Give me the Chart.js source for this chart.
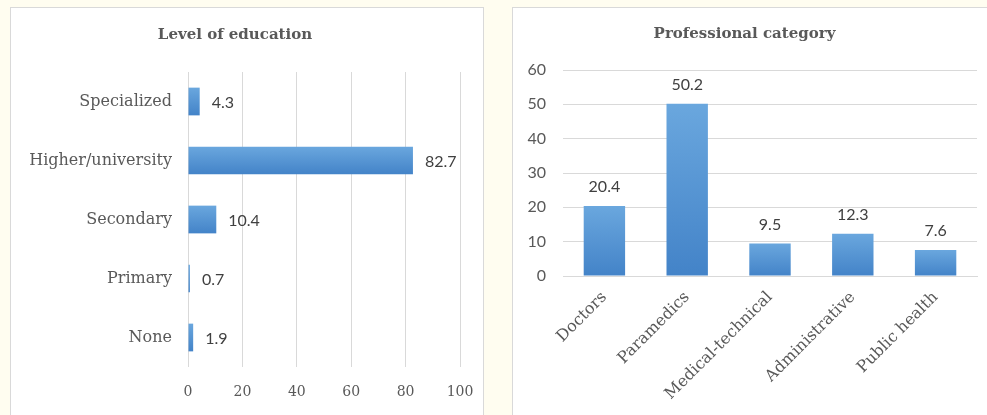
<!DOCTYPE html>
<html>
<head>
<meta charset="utf-8">
<script src="https://cdn.jsdelivr.net/npm/chart.js@4/dist/chart.umd.min.js"></script>
<style>
  html, body { margin: 0; padding: 0; background: #fffdf0; width: 987px; height: 415px; overflow: hidden; }
  .panel { position: absolute; background: #fff; border: 1px solid #d9d9d9; box-sizing: border-box; }
  canvas { position: absolute; }
</style>
</head>
<body>
<div class="panel" style="left:10px;top:7px;width:474px;height:412px"></div>
<div class="panel" style="left:512px;top:7px;width:480px;height:412px"></div>
<canvas id="edu" width="473" height="408" style="left:10px;top:7px"></canvas>
<canvas id="prof" width="475" height="408" style="left:512px;top:7px"></canvas>
<script>
const eduLabels = ['Specialized', 'Higher/university', 'Secondary', 'Primary', 'None'];
const eduValues = [4.3, 82.7, 10.4, 0.7, 1.9];
const eduTicks = [0, 20, 40, 60, 80, 100];

const profLabels = ['Doctors', 'Paramedics', 'Medical-technical', 'Administrative', 'Public health'];
const profValues = [20.4, 50.2, 9.5, 12.3, 7.6];

const textColor = '#595959';
const gridColor = '#d9d9d9';
const serif = "'DejaVu Serif', 'Liberation Serif', serif";
const sans = "Lato, 'Open Sans', sans-serif";

// light-to-dark fill for each bar, computed from the scales
function barFill(horizontal) {
    return ctx => {
        const chart = ctx.chart;
        if (!chart.chartArea || ctx.dataIndex === undefined) return '#5b9bd5';
        const c = chart.ctx;
        let g;
        if (horizontal) {
            const y = chart.scales.y.getPixelForValue(ctx.dataIndex);
            g = c.createLinearGradient(0, y - 14, 0, y + 14);
        } else {
            const top = chart.scales.y.getPixelForValue(ctx.raw);
            const bottom = chart.scales.y.getPixelForValue(0);
            g = c.createLinearGradient(0, top, 0, bottom);
        }
        g.addColorStop(0, '#6aa7de');
        g.addColorStop(1, '#4383c8');
        return g;
    };
}

const valueLabels = {
    id: 'valueLabels',
    afterDatasetsDraw(chart) {
        const c = chart.ctx;
        const horizontal = chart.options.indexAxis === 'y';
        const meta = chart.getDatasetMeta(0);
        const data = chart.data.datasets[0].data;
        c.save();
        c.fillStyle = '#404040';
        c.font = '16px ' + sans;
        meta.data.forEach((el, i) => {
            const txt = data[i].toFixed(1);
            c.textBaseline = 'middle';
            if (horizontal) {
                c.textAlign = 'left';
                c.fillText(txt, el.x + 12, el.y + 1);
            } else {
                c.textAlign = 'center';
                c.fillText(txt, el.x, el.y - 19);
            }
        });
        c.restore();
    }
};

new Chart(document.getElementById('edu'), {
    type: 'bar',
    data: {
        labels: eduLabels,
        datasets: [{
            data: eduValues,
            backgroundColor: barFill(true),
            barPercentage: 0.47,
            categoryPercentage: 1
        }]
    },
    plugins: [valueLabels],
    options: {
        indexAxis: 'y',
        responsive: false,
        animation: false,
        devicePixelRatio: 1,
        layout: { padding: { left: 0, right: 23, top: 0, bottom: 0 } },
        plugins: {
            legend: { display: false },
            tooltip: { enabled: false },
            title: {
                display: true,
                text: 'Level of education',
                color: textColor,
                font: { family: serif, size: 15, weight: 'bold', lineHeight: 1.2 },
                padding: { top: 19, bottom: 28 }
            }
        },
        scales: {
            x: {
                min: 0, max: 100,
                afterBuildTicks: s => { s.ticks = eduTicks.map(v => ({ value: v })); },
                afterFit: s => { s.height = 48; s.paddingRight = 0; },
                grid: { color: gridColor, drawTicks: false },
                border: { display: false },
                ticks: { color: textColor, font: { family: serif, size: 14 }, padding: 17 }
            },
            y: {
                afterFit: s => { s.width = 178; },
                grid: { display: false, drawTicks: false },
                border: { display: false },
                ticks: { color: textColor, font: { family: serif, size: 16 }, padding: 16 }
            }
        }
    }
});

new Chart(document.getElementById('prof'), {
    type: 'bar',
    data: {
        labels: profLabels,
        datasets: [{
            data: profValues,
            backgroundColor: barFill(false),
            barPercentage: 0.5,
            categoryPercentage: 1
        }]
    },
    plugins: [valueLabels],
    options: {
        responsive: false,
        animation: false,
        devicePixelRatio: 1,
        layout: { padding: { left: 0, right: 10, top: 0, bottom: 0 } },
        plugins: {
            legend: { display: false },
            tooltip: { enabled: false },
            title: {
                display: true,
                text: 'Professional category',
                color: textColor,
                font: { family: serif, size: 15, weight: 'bold', lineHeight: 1.2 },
                padding: { top: 18, bottom: 27 }
            }
        },
        scales: {
            x: {
                afterFit: s => { s.height = 139; },
                grid: { display: false },
                border: { color: gridColor },
                ticks: { color: textColor, font: { family: serif, size: 16 }, maxRotation: 45, minRotation: 45, padding: 4 }
            },
            y: {
                min: 0, max: 60,
                afterFit: s => { s.width = 51; },
                grid: { color: gridColor, drawTicks: false },
                border: { display: false },
                ticks: { stepSize: 10, color: textColor, font: { family: sans, size: 16 }, padding: 17 }
            }
        }
    }
});
</script>
</body>
</html>
